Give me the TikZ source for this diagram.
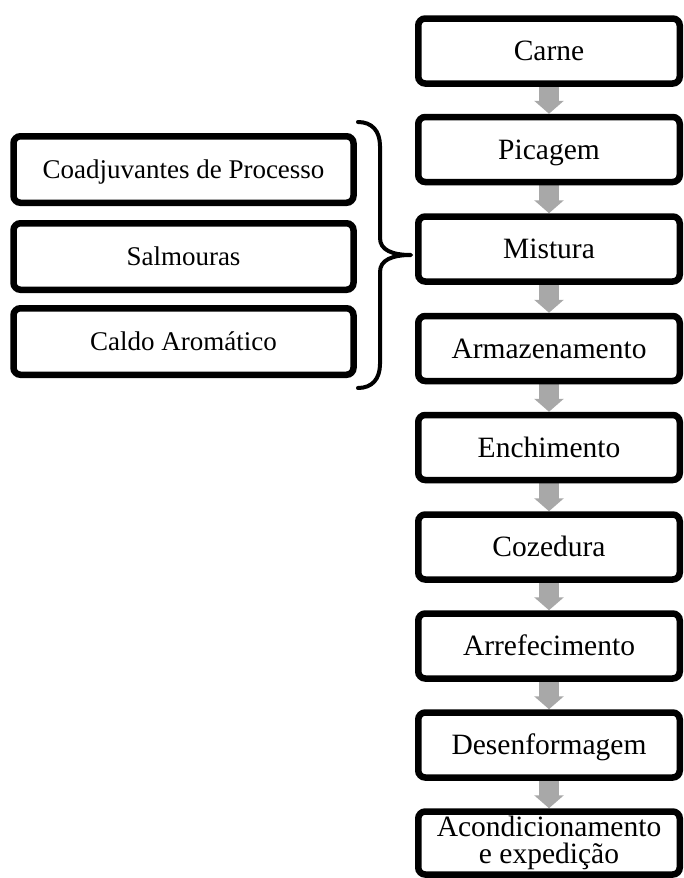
\documentclass[tikz,border=0pt]{standalone}
\usepackage{fontspec}
\setmainfont{Liberation Serif}
\usetikzlibrary{arrows.meta,shadows}
\pgfdeclarelayer{background}
\pgfsetlayers{background,main}
\definecolor{arrowgray}{RGB}{168,168,168}
\begin{document}
\begin{tikzpicture}[x=1pt,y=-1pt,
  stepbox/.style={draw=black, line width=6.5pt, fill=white, rounded corners=7pt,
    minimum width=261.5pt, minimum height=65pt, inner sep=0pt,
    font=\fontsize{29.5}{27.5}\selectfont, text height=26.55pt, text depth=7pt,
    drop shadow={opacity=0.25, shadow xshift=0pt, shadow yshift=-3pt}},
  inbox/.style={draw=black, line width=6.5pt, fill=white, rounded corners=7pt,
    minimum width=340pt, minimum height=66.5pt, inner sep=0pt,
    font=\fontsize{27}{29}\selectfont, text height=24.3pt, text depth=6.4pt,
    drop shadow={opacity=0.25, shadow xshift=0pt, shadow yshift=-3pt}},
  flowarrow/.style={draw=arrowgray, line width=20pt,
    -{Triangle[width=29pt,length=13pt]}},
  bracestyle/.style={draw=black, line width=4pt, line cap=round, line join=round}]
\useasboundingbox (0,0) rectangle (684,878);

\node[stepbox] (s1) at (549,51) {Carne};
\node[stepbox] (s2) at (549,149.5) {Picagem};
\node[stepbox] (s3) at (549,249) {Mistura};
\node[stepbox] (s4) at (549,348.5) {Armazenamento};
\node[stepbox] (s5) at (549,447.5) {Enchimento};
\node[stepbox] (s6) at (549,547) {Cozedura};
\node[stepbox] (s7) at (549,646) {Arrefecimento};
\node[stepbox] (s8) at (549,745) {Desenformagem};
\node[stepbox, minimum height=63pt, text height={}, text depth={}, align=center] (s9) at (549,843) {Acondicionamento\\e expedição};

\node[inbox] (i1) at (183.5,169.5) {Coadjuvantes de Processo};
\node[inbox] (i2) at (183.5,256.5) {Salmouras};
\node[inbox] (i3) at (183.5,341.5) {Caldo Aromático};

\begin{pgfonlayer}{background}
\foreach \a/\b in {s1/s2,s2/s3,s3/s4,s4/s5,s5/s6,s6/s7,s7/s8,s8/s9}
  \draw[flowarrow] (\a.south) -- (\b.north);
\end{pgfonlayer}

\coordinate (bt) at (358,122);
\coordinate (bb) at (358,388);
\coordinate (tip) at (411,255);
\draw[bracestyle] (bt) .. controls (372,122) and (380,131) .. (380,146)
  -- (380,238) .. controls (380,250) and (392,255) .. (tip)
  .. controls (392,255) and (380,260) .. (380,272)
  -- (380,364) .. controls (380,379) and (372,388) .. (bb);
\end{tikzpicture}
\end{document}
